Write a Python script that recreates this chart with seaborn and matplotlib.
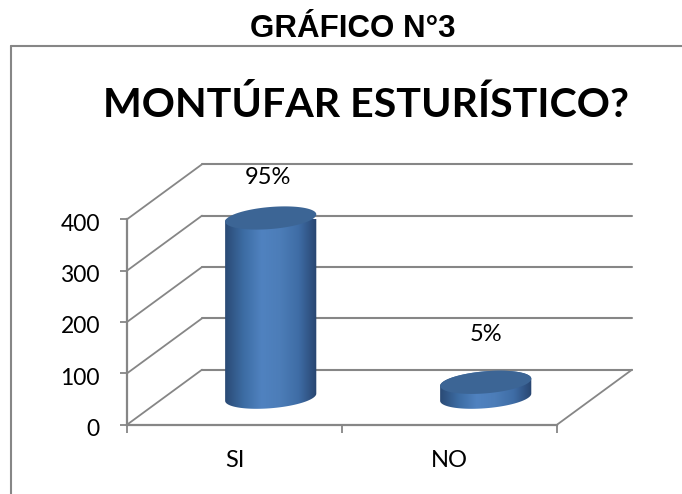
import numpy as np
import matplotlib
matplotlib.use("Agg")
import matplotlib.pyplot as plt
from matplotlib.colors import LinearSegmentedColormap
from matplotlib.lines import Line2D
from matplotlib.patches import Polygon
from matplotlib.transforms import ScaledTranslation
import pandas as pd
import seaborn as sns

categories = ["SI", "NO"]
values = [349, 29]
labels = ["95%", "5%"]
y_ticks = [0, 100, 200, 300, 400]

GREY = "#868686"
W, H = 682, 494
sns.set_theme(style="white")
plt.rcParams["font.family"] = ["Lato", "DejaVu Sans"]

fig = plt.figure(figsize=(W / 100, H / 100), dpi=100, facecolor="white")
ax = fig.add_axes([127 / W, (H - 424.7) / H, 430 / W, 205.4 / H])
ax.patch.set_alpha(0)

df = pd.DataFrame({"cat": categories, "val": values})
sns.barplot(data=df, x="cat", y="val", color="#4f81bd", width=0.424, ax=ax, zorder=3)
ax.set_xlim(-0.5, 1.5)
ax.set_ylim(0, 400)

# oblique 3D depth in data units
DX, DY = 75 / 215, 55 / 0.5135

for t in y_ticks:
    ax.plot([-0.5 + DX, 1.5 + DX], [t + DY, t + DY], color=GREY, lw=1.5, clip_on=False, zorder=1)
    ax.plot([-0.5, -0.5 + DX], [t, t + DY], color=GREY, lw=1.3, clip_on=False, zorder=1)
ax.plot([1.5, 1.5 + DX], [0, DY], color=GREY, lw=1.3, clip_on=False, zorder=1)

cmap = LinearSegmentedColormap.from_list(
    "cyl", ["#2a4a75", "#3c6ca3", "#5082c0", "#4c7db8", "#3f6da6", "#284570"]
)
tilt = 7.0
ry = 21.5
T = np.linspace(0, 2 * np.pi, 120)

for bar, val, lab in zip(list(ax.patches), values, labels):
    x0, w = bar.get_x(), bar.get_width()
    bar.set_visible(False)
    cx = x0 + w / 2 + DX / 2 - 0.006
    base = DY / 2
    top = base + val
    rx = w / 2
    ex = rx * np.cos(T)
    ey = ry * np.sin(T) + tilt * np.cos(T)
    lo = np.linspace(np.pi, 2 * np.pi, 60)
    hi = np.linspace(0, np.pi, 60)
    xs = np.r_[cx + rx * np.cos(lo), cx + rx * np.cos(hi)]
    ys = np.r_[base + ry * np.sin(lo) + tilt * np.cos(lo), top + ry * np.sin(hi) + tilt * np.cos(hi)]
    body = Polygon(np.c_[xs, ys], closed=True, transform=ax.transData, fc="none", ec="none")
    ax.add_patch(body)
    body.set_clip_on(False)
    im = ax.imshow(
        np.linspace(0, 1, 256)[None, :], cmap=cmap, aspect="auto",
        extent=[cx - rx, cx + rx, base - 2 * ry, top + 2 * ry], zorder=3,
        interpolation="bilinear",
    )
    im.set_clip_path(body)
    cap = Polygon(np.c_[cx + ex, top + ey], closed=True, fc="#3c6595", ec="none", zorder=4, clip_on=False)
    ax.add_patch(cap)
    ax.annotate(lab, (cx, top), xytext=(-2 if val > 100 else 0, 29 if val > 100 else 34.5),
                textcoords="offset points", ha="center", va="center",
                fontsize=17, color="black", annotation_clip=False, zorder=5)

ax.set_xlim(-0.5, 1.5)
ax.set_ylim(0, 400)
ax.set_xlabel("")
ax.set_ylabel("")
ax.set_yticks(y_ticks)
ax.set_xticks([0, 1], categories)
ax.set_xticks([-0.5, 0.5, 1.5], minor=True)
ax.tick_params(axis="x", which="major", length=0, pad=18, labelsize=17, labelcolor="black")
ax.tick_params(axis="x", which="minor", length=6, width=1.3, color=GREY, bottom=True)
ax.tick_params(axis="y", length=5, width=1.3, color=GREY, left=True, pad=14.5, labelsize=16.5, labelcolor="black")
for lbl in ax.get_yticklabels():
    lbl.set_transform(lbl.get_transform() + ScaledTranslation(0, -2 / 72, fig.dpi_scale_trans))
for s in ["top", "right"]:
    ax.spines[s].set_visible(False)
for s in ["left", "bottom"]:
    ax.spines[s].set_color(GREY)
    ax.spines[s].set_linewidth(1.6)

# surrounding chart frame
fig.add_artist(Line2D([11 / W, 11 / W], [0, (H - 46) / H], color=GREY, lw=1.5))
fig.add_artist(Line2D([11 / W, 1], [(H - 46) / H, (H - 46) / H], color=GREY, lw=1.5))

fig.text(353 / W, (H - 29) / H, "GRÁFICO N°3", ha="center", va="center",
         fontsize=22.5, fontweight="bold", color="black", family="Liberation Sans")
ax.set_title("MONTÚFAR ESTURÍSTICO?", fontsize=29.6, fontweight="bold", color="black",
             x=(366 - 127) / 430, y=1.515, va="center")

fig.savefig("out.png", dpi=100, facecolor="white")
